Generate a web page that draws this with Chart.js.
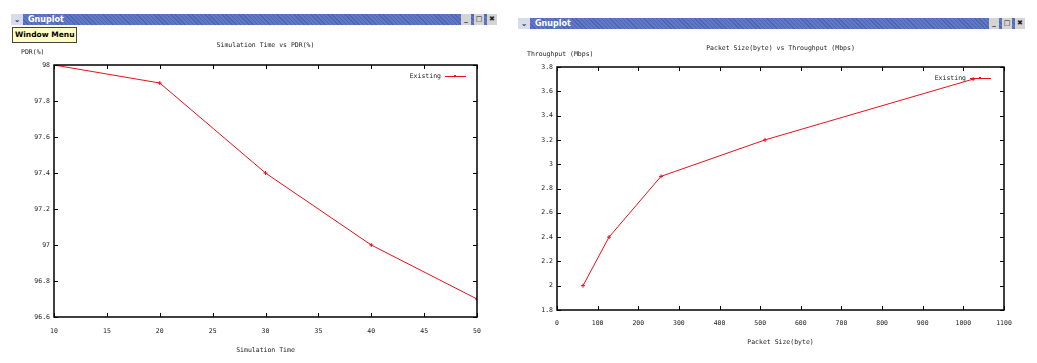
<!DOCTYPE html>
<html>
<head>
<meta charset="utf-8">
<script src="https://cdn.jsdelivr.net/npm/chart.js@4/dist/chart.umd.min.js"></script>
<style>
  body { margin: 0; background: #fff; width: 1037px; height: 363px; overflow: hidden; position: relative; font-family: "DejaVu Sans", sans-serif; }
  .bar { position: absolute; background: repeating-linear-gradient(45deg, #4a66b4 0 1px, #6079c2 1px 3px); color: #fff; font-weight: bold; font-size: 8px; }
  .bar .chev { position: absolute; left: 0; top: 0; bottom: 0; width: 12px; background: #d8dce8; color: #203060; font-size: 8px; text-align: center; }
  .bar .name { position: absolute; left: 17px; top: 0; }
  .bar .btn { position: absolute; top: 0; bottom: 0; width: 10px; background: #d4d4d4; color: #222; font-size: 7px; text-align: center; }
  .tip { position: absolute; left: 12px; top: 27px; height: 14px; padding: 0 2px; white-space: nowrap; background: #ffffc4; border: 1px solid #444; font-size: 7.5px; font-weight: bold; line-height: 14px; color: #000; }
  canvas { position: absolute; top: 0; }
</style>
</head>
<body>
<div class="bar" style="left:11px;top:14px;width:486px;height:11px;line-height:11px;">
  <span class="chev">&#8964;</span><span class="name">Gnuplot</span>
  <span class="btn" style="right:26px;">_</span><span class="btn" style="right:13px;">&#9633;</span><span class="btn" style="right:0;">&#10006;</span>
</div>
<div class="bar" style="left:518px;top:18px;width:507px;height:11px;line-height:11px;">
  <span class="chev">&#8964;</span><span class="name">Gnuplot</span>
  <span class="btn" style="right:26px;">_</span><span class="btn" style="right:13px;">&#9633;</span><span class="btn" style="right:0;">&#10006;</span>
</div>
<canvas id="graficoPdr" width="518" height="363" style="left:0"></canvas>
<canvas id="graficoThroughput" width="519" height="363" style="left:518px"></canvas>
<div class="tip">Window Menu</div>
<script>
// datos
const simTime = [10, 20, 30, 40, 50];
const pdrValues = [98, 97.9, 97.4, 97.0, 96.7];
const packetSize = [64, 128, 256, 512, 1024];
const throughputValues = [2.0, 2.4, 2.9, 3.2, 3.7];
const serieNombre = 'Existing';

const fuente = { family: 'DejaVu Sans Mono', size: 6.5 };
const rojo = '#e8101a';

// caja estilo gnuplot con ticks hacia adentro, textos y leyenda
const gnuplotBox = {
  id: 'gnuplotBox',
  afterDraw(chart, args, opts) {
    const c = chart.ctx, a = chart.chartArea;
    const sx = chart.scales.x, sy = chart.scales.y;
    c.save();
    c.strokeStyle = '#000';
    c.lineWidth = 1.5;
    c.strokeRect(a.left, a.top, a.right - a.left, a.bottom - a.top);
    c.lineWidth = 1;
    c.beginPath();
    sx.ticks.forEach(t => {
      const px = Math.round(sx.getPixelForValue(t.value)) + 0.5;
      c.moveTo(px, a.bottom); c.lineTo(px, a.bottom - 4);
      c.moveTo(px, a.top); c.lineTo(px, a.top + 4);
    });
    sy.ticks.forEach(t => {
      const py = Math.round(sy.getPixelForValue(t.value)) + 0.5;
      c.moveTo(a.left, py); c.lineTo(a.left + 4, py);
      c.moveTo(a.right, py); c.lineTo(a.right - 4, py);
    });
    c.stroke();

    c.fillStyle = '#222';
    c.font = fuente.size + 'px ' + fuente.family;
    c.textBaseline = 'middle';
    const cx = (a.left + a.right) / 2;
    c.textAlign = 'center';
    c.fillText(opts.titulo, cx, opts.tituloY);
    c.fillText(opts.ejeX, cx, opts.ejeXY);
    c.textAlign = 'left';
    c.fillText(opts.ejeY, opts.ejeYX, opts.ejeYY);

    // leyenda
    c.textAlign = 'right';
    c.fillText(serieNombre, opts.leyX, opts.leyY);
    c.strokeStyle = rojo;
    c.beginPath();
    c.moveTo(opts.leyX + 4, opts.leyY + 0.5);
    c.lineTo(opts.leyX + 25, opts.leyY + 0.5);
    c.stroke();
    c.fillStyle = rojo;
    c.fillRect(opts.leyX + 13, opts.leyY - 1, 2, 2);
    c.restore();
  }
};

function crearGrafico(id, xs, ys, cfg) {
  const ctx = document.getElementById(id);
  return new Chart(ctx.getContext('2d'), {
    type: 'line',
    data: {
      datasets: [{
        label: serieNombre,
        data: xs.map((x, i) => ({ x: x, y: ys[i] })),
        borderColor: rojo,
        backgroundColor: rojo,
        borderWidth: 1,
        pointStyle: 'cross',
        pointRadius: 2,
        pointBorderWidth: 1,
        tension: 0
      }]
    },
    options: {
      responsive: false,
      animation: false,
      devicePixelRatio: 1,
      layout: { padding: cfg.padding },
      plugins: {
        legend: { display: false },
        tooltip: { enabled: false },
        gnuplotBox: cfg.textos
      },
      scales: {
        x: {
          type: 'linear',
          min: cfg.xMin, max: cfg.xMax,
          grid: { display: false, drawTicks: false },
          border: { display: false },
          ticks: {
            stepSize: cfg.xStep, color: '#222', font: fuente, padding: cfg.xPad, maxRotation: 0, autoSkip: false,
            callback: v => String(v)
          },
          afterFit(scale) { scale.height = cfg.xAltura; }
        },
        y: {
          min: cfg.yMin, max: cfg.yMax,
          grid: { display: false, drawTicks: false },
          border: { display: false },
          ticks: {
            stepSize: 0.2, color: '#222', font: fuente, padding: 4, autoSkip: false,
            callback: v => String(Math.round(v * 10) / 10)
          },
          afterFit(scale) { scale.width = cfg.yAncho; }
        }
      }
    },
    plugins: [gnuplotBox]
  });
}

crearGrafico('graficoPdr', simTime, pdrValues, {
  padding: { top: 65, right: 41, bottom: 0, left: 0 },
  xMin: 10, xMax: 50, xStep: 5, xPad: 10, xAltura: 46,
  yMin: 96.6, yMax: 98, yAncho: 54,
  textos: {
    titulo: 'Simulation Time vs PDR(%)', tituloY: 45,
    ejeX: 'Simulation Time', ejeXY: 350,
    ejeY: 'PDR(%)', ejeYX: 21, ejeYY: 52,
    leyX: 441, leyY: 76
  }
});

crearGrafico('graficoThroughput', packetSize, throughputValues, {
  padding: { top: 67, right: 33, bottom: 0, left: 0 },
  xMin: 0, xMax: 1100, xStep: 100, xPad: 9, xAltura: 53,
  yMin: 1.8, yMax: 3.8, yAncho: 39,
  textos: {
    titulo: 'Packet Size(byte) vs Throughput (Mbps)', tituloY: 48,
    ejeX: 'Packet Size(byte)', ejeXY: 342,
    ejeY: 'Throughput (Mbps)', ejeYX: 9, ejeYY: 54,
    leyX: 448, leyY: 78
  }
});
</script>
</body>
</html>
